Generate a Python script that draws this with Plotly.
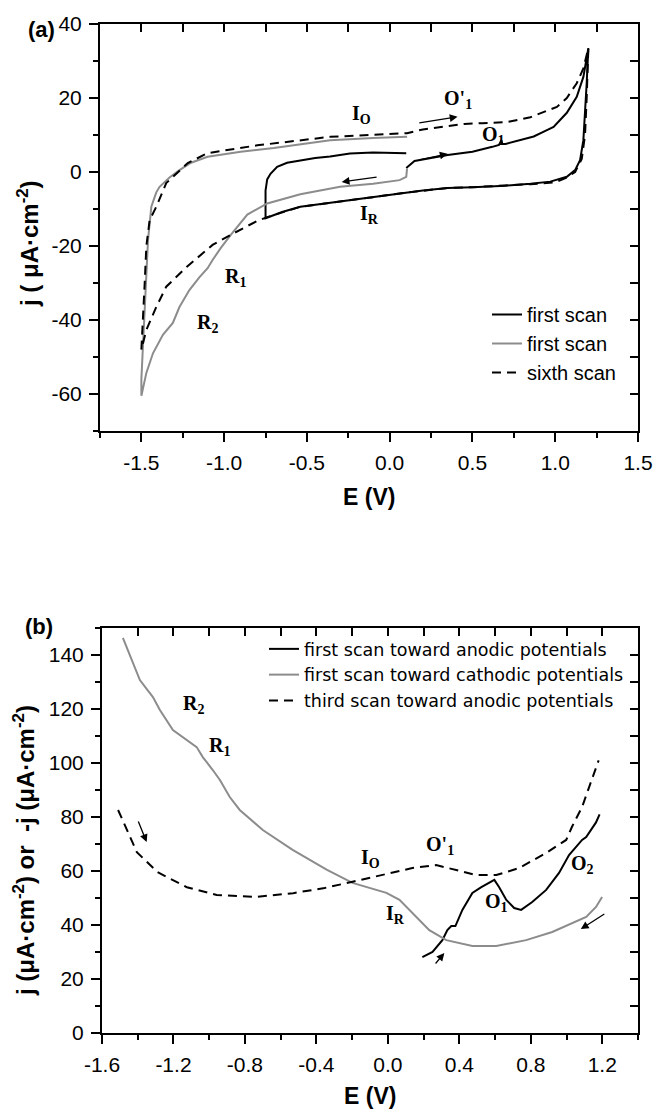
import plotly.graph_objects as go

# ---------------- Panel (a) data ----------------
A_FIRST_E = [0.10, 0.15, 0.35, 0.50, 0.62, 0.66, 0.675, 0.68, 0.70, 0.80, 0.87, 0.95, 0.99, 1.07, 1.13, 1.17, 1.20,
             1.19, 1.18, 1.17, 1.15, 1.12, 1.07, 0.97, 0.85, 0.70, 0.50, 0.35, 0.20, 0.06, -0.10, -0.30, -0.54, -0.65, -0.74,
             -0.75, -0.75, -0.74, -0.72, -0.68, -0.62, -0.54, -0.45, -0.36, -0.24, -0.10, 0.00, 0.10]
A_FIRST_J = [1.1, 3.0, 4.6, 5.5, 6.8, 7.3, 8.6, 7.6, 7.6, 8.8, 9.6, 11.3, 12.2, 16.0, 20.3, 25.7, 33.5,
             24.0, 14.9, 8.6, 3.2, 0.5, -1.3, -2.6, -3.2, -3.7, -4.1, -4.3, -5.0, -5.8, -6.8, -8.0, -9.4, -10.8, -12.2,
             -12.5, -5.0, -2.0, -0.5, 1.4, 2.5, 3.2, 3.8, 4.2, 5.0, 5.3, 5.3, 5.1]

A_CATH_E = [0.105, 0.10, 0.06, -0.10, -0.30, -0.54, -0.74, -0.86, -0.96, -1.02, -1.07, -1.10, -1.15, -1.21, -1.27,
            -1.31, -1.37, -1.43, -1.47, -1.50, -1.50, -1.49, -1.48, -1.47, -1.46, -1.44, -1.41, -1.39, -1.33, -1.27,
            -1.20, -1.10, -0.90, -0.70, -0.54, -0.36, -0.10, 0.105]
A_CATH_J = [1.0, -1.3, -2.2, -3.2, -4.0, -6.0, -8.5, -11.5, -17.0, -20.5, -23.8, -26.0, -28.5, -31.9, -36.5,
            -40.8, -44.0, -49.0, -54.3, -60.5, -56.0, -46.0, -36.5, -27.0, -18.4, -9.4, -5.5, -4.0, -1.5, 0.5,
            2.5, 4.1, 5.5, 6.5, 7.5, 8.6, 9.2, 9.5]

A_SIXTH_E = [-1.50, -1.49, -1.48, -1.47, -1.45, -1.41, -1.35, -1.22, -1.10, -0.80, -0.54, -0.36, 0.105, 0.20, 0.35,
             0.45, 0.56, 0.71, 0.85, 1.01, 1.07, 1.13, 1.17, 1.20, 1.19, 1.18, 1.16, 1.12, 1.07, 1.00, 0.85, 0.70,
             0.50, 0.35, 0.20, 0.06, -0.10, -0.30, -0.54, -0.74, -0.80, -0.94, -1.07, -1.225, -1.35, -1.41, -1.47, -1.50]
A_SIXTH_J = [-48.0, -40.0, -30.0, -20.0, -13.0, -9.4, -3.0, 2.4, 5.1, 7.2, 8.6, 9.5, 10.5, 11.5, 12.4,
             13.0, 13.2, 13.5, 14.8, 17.6, 20.0, 24.0, 28.0, 33.5, 20.0, 10.0, 3.5, 0.0, -1.5, -2.8, -3.3, -3.7,
             -4.1, -4.3, -5.0, -5.8, -6.8, -8.0, -9.4, -12.2, -13.2, -16.5, -19.7, -25.6, -31.0, -36.5, -42.7, -48.0]

A_XTICKS = [-1.5, -1.0, -0.5, 0.0, 0.5, 1.0, 1.5]
A_XLABELS = ["-1.5", "-1.0", "-0.5", "0.0", "0.5", "1.0", "1.5"]
A_YTICKS = [-60, -40, -20, 0, 20, 40]
A_YLABELS = ["-60", "-40", "-20", "0", "20", "40"]

A_LABEL_TEXT = ["I<sub>O</sub>", "O'<sub>1</sub>", "O<sub>1</sub>", "I<sub>R</sub>", "R<sub>1</sub>", "R<sub>2</sub>"]
A_LABEL_E = [-0.17, 0.41, 0.63, -0.12, -0.93, -1.10]
A_LABEL_J = [15.5, 19.5, 10.0, -11.5, -28.5, -41.0]

A_ARROW_TAIL_E = [0.17, 0.17, -0.07]
A_ARROW_TAIL_J = [13.2, 3.2, -1.35]
A_ARROW_HEAD_E = [0.41, 0.35, -0.29]
A_ARROW_HEAD_J = [14.9, 4.9, -2.7]

# ---------------- Panel (b) data ----------------
B_ANOD_E = [0.193, 0.25, 0.305, 0.333, 0.355, 0.378, 0.417, 0.473, 0.523, 0.596, 0.623, 0.663, 0.707, 0.746,
            0.808, 0.886, 0.958, 1.014, 1.087, 1.11, 1.165, 1.185]
B_ANOD_J = [28.1, 30.0, 34.4, 38.1, 39.6, 39.6, 45.6, 51.9, 54.0, 56.7, 54.0, 49.3, 46.3, 45.6,
            48.5, 53.0, 59.3, 65.9, 71.5, 72.6, 78.0, 81.0]

B_CATH_E = [1.199, 1.165, 1.11, 0.92, 0.774, 0.607, 0.473, 0.327, 0.232, 0.137, 0.065, -0.008, -0.198, -0.343,
            -0.533, -0.70, -0.829, -0.885, -0.94, -0.98, -1.036, -1.07, -1.125, -1.203, -1.276, -1.315, -1.388, -1.483]
B_CATH_J = [50.4, 46.7, 43.0, 37.4, 34.4, 32.2, 32.2, 34.4, 38.1, 44.4, 49.3, 51.9, 55.6, 60.5,
            67.8, 75.2, 82.6, 87.4, 93.7, 97.4, 102.2, 105.9, 108.5, 112.2, 119.6, 124.4, 130.7, 146.3]

B_THIRD_E = [-1.51, -1.46, -1.405, -1.29, -1.125, -0.958, -0.734, -0.53, -0.354, -0.198, 0.026, 0.137, 0.27, 0.383,
             0.495, 0.607, 0.735, 0.886, 0.998, 1.03, 1.087, 1.126, 1.18]
B_THIRD_J = [82.6, 75.2, 67.0, 59.6, 54.0, 51.1, 50.4, 51.8, 53.7, 56.0, 59.3, 61.1, 62.2, 60.4,
             58.5, 58.5, 61.1, 66.7, 71.5, 76.3, 83.7, 91.0, 101.0]

B_XTICKS = [-1.6, -1.2, -0.8, -0.4, 0.0, 0.4, 0.8, 1.2]
B_XLABELS = ["-1.6", "-1.2", "-0.8", "-0.4", "0.0", "0.4", "0.8", "1.2"]
B_YTICKS = [0, 20, 40, 60, 80, 100, 120, 140]
B_YLABELS = ["0", "20", "40", "60", "80", "100", "120", "140"]

B_LABEL_TEXT = ["R<sub>2</sub>", "R<sub>1</sub>", "I<sub>O</sub>", "O'<sub>1</sub>", "I<sub>R</sub>", "O<sub>1</sub>", "O<sub>2</sub>"]
B_LABEL_E = [-1.09, -0.94, -0.10, 0.29, 0.04, 0.61, 1.09]
B_LABEL_J = [121.5, 106.0, 64.5, 69.5, 44.0, 48.5, 62.5]

B_ARROW_TAIL_E = [0.26, 1.22, -1.40]
B_ARROW_TAIL_J = [25.2, 44.4, 78.9]
B_ARROW_HEAD_E = [0.316, 1.08, -1.35]
B_ARROW_HEAD_J = [29.6, 38.5, 70.7]

# ---------------- Figure ----------------
W, H = 656, 1113
GRAY = "rgb(140,140,140)"
SANS = "Arial, Liberation Sans, sans-serif"
WIDE = "DejaVu Sans, Arial, sans-serif"
SERIF = "Times New Roman, Liberation Serif, serif"
DASH = "9px,6px"


def px_x(p):
    return p / W


def px_y(p):
    return 1 - p / H


fig = go.Figure()

fig.add_trace(go.Scatter(x=A_FIRST_E, y=A_FIRST_J, mode="lines", name="first scan",
                         line=dict(color="black", width=2), xaxis="x", yaxis="y", legend="legend"))
fig.add_trace(go.Scatter(x=A_CATH_E, y=A_CATH_J, mode="lines", name="first scan",
                         line=dict(color=GRAY, width=2), xaxis="x", yaxis="y", legend="legend"))
fig.add_trace(go.Scatter(x=A_SIXTH_E, y=A_SIXTH_J, mode="lines", name="sixth scan",
                         line=dict(color="black", width=2, dash=DASH), xaxis="x", yaxis="y", legend="legend"))

fig.add_trace(go.Scatter(x=B_ANOD_E, y=B_ANOD_J, mode="lines", name="first scan toward anodic potentials",
                         line=dict(color="black", width=2), xaxis="x2", yaxis="y2", legend="legend2"))
fig.add_trace(go.Scatter(x=B_CATH_E, y=B_CATH_J, mode="lines", name="first scan toward cathodic potentials",
                         line=dict(color=GRAY, width=2), xaxis="x2", yaxis="y2", legend="legend2"))
fig.add_trace(go.Scatter(x=B_THIRD_E, y=B_THIRD_J, mode="lines", name="third scan toward anodic potentials",
                         line=dict(color="black", width=2, dash=DASH), xaxis="x2", yaxis="y2", legend="legend2"))

# empty traces to register mirror axes (top / right with inside ticks)
fig.add_trace(go.Scatter(x=[], y=[], xaxis="x3", yaxis="y3", showlegend=False, hoverinfo="skip"))
fig.add_trace(go.Scatter(x=[], y=[], xaxis="x4", yaxis="y4", showlegend=False, hoverinfo="skip"))

dom_ax = [px_x(100), px_x(638)]
dom_ay = [px_y(431), px_y(24)]
dom_bx = [px_x(102), px_x(638)]
dom_by = [px_y(1033), px_y(628)]

tickfont = dict(family=SANS, size=21, color="black")


def main_axis(dom, anchor, rng, tv, tt, minor_d):
    return dict(domain=dom, anchor=anchor, range=rng, tickmode="array", tickvals=tv, ticktext=tt,
                automargin=False,
                showline=True, linecolor="black", linewidth=2, ticks="outside", ticklen=9, tickwidth=2,
                tickcolor="black", showgrid=False, zeroline=False, tickfont=tickfont, ticklabelstandoff=3,
                minor=dict(dtick=minor_d, tick0=0, ticks="outside", ticklen=5, tickwidth=2, tickcolor="black",
                           showgrid=False))


def mirror_axis(dom, anchor, over, side, rng, tv, minor_d):
    return dict(domain=dom, anchor=anchor, overlaying=over, side=side, range=rng, tickmode="array",
                automargin=False,
                tickvals=tv, showticklabels=False, showline=True, linecolor="black", linewidth=2,
                ticks="inside", ticklen=8, tickwidth=2, tickcolor="black", showgrid=False, zeroline=False,
                minor=dict(dtick=minor_d, tick0=0, ticks="inside", ticklen=8, tickwidth=2, tickcolor="black",
                           showgrid=False))


A_XR = [-1.75, 1.5]
A_YR = [-70, 40]
B_XR = [-1.6, 1.4]
B_YR = [0, 150]

fig.update_layout(
    template="none",
    width=W, height=H, autosize=False,
    margin=dict(l=0, r=0, t=0, b=0, pad=0, autoexpand=False),
    paper_bgcolor="white", plot_bgcolor="white",
    xaxis=main_axis(dom_ax, "y", A_XR, A_XTICKS, A_XLABELS, 0.25),
    yaxis=main_axis(dom_ay, "x", A_YR, A_YTICKS, A_YLABELS, 10),
    xaxis2=main_axis(dom_bx, "y2", B_XR, B_XTICKS, B_XLABELS, 0.2),
    yaxis2=main_axis(dom_by, "x2", B_YR, B_YTICKS, B_YLABELS, 10),
    xaxis3=mirror_axis(dom_ax, "y3", "x", "top", A_XR, A_XTICKS, 0.25),
    yaxis3=mirror_axis(dom_ay, "x3", "y", "right", A_YR, A_YTICKS, 10),
    xaxis4=mirror_axis(dom_bx, "y4", "x2", "top", B_XR, B_XTICKS, 0.2),
    yaxis4=mirror_axis(dom_by, "x4", "y2", "right", B_YR, B_YTICKS, 10),
    legend=dict(x=px_x(487), y=px_y(295), xanchor="left", yanchor="top", bgcolor="rgba(0,0,0,0)",
                borderwidth=0, font=dict(family=SANS, size=20, color="black"), tracegroupgap=0),
    legend2=dict(x=px_x(264), y=px_y(631), xanchor="left", yanchor="top", bgcolor="rgba(0,0,0,0)",
                 borderwidth=0, font=dict(family=WIDE, size=17.5, color="black"), tracegroupgap=0),
    showlegend=True,
)

ann = []
lab_font = dict(family=SERIF, size=20, color="black", weight="bold")
for t, e, j in zip(A_LABEL_TEXT, A_LABEL_E, A_LABEL_J):
    ann.append(dict(text=t, x=e, y=j, xref="x", yref="y", showarrow=False, font=lab_font,
                    xanchor="center", yanchor="middle"))
for t, e, j in zip(B_LABEL_TEXT, B_LABEL_E, B_LABEL_J):
    ann.append(dict(text=t, x=e, y=j, xref="x2", yref="y2", showarrow=False, font=lab_font,
                    xanchor="center", yanchor="middle"))

for te, tj, he, hj in zip(A_ARROW_TAIL_E, A_ARROW_TAIL_J, A_ARROW_HEAD_E, A_ARROW_HEAD_J):
    ann.append(dict(text="", x=he, y=hj, ax=te, ay=tj, xref="x", yref="y", axref="x", ayref="y",
                    showarrow=True, arrowhead=2, arrowsize=1.2, arrowwidth=1.3, arrowcolor="black"))
for te, tj, he, hj in zip(B_ARROW_TAIL_E, B_ARROW_TAIL_J, B_ARROW_HEAD_E, B_ARROW_HEAD_J):
    ann.append(dict(text="", x=he, y=hj, ax=te, ay=tj, xref="x2", yref="y2", axref="x2", ayref="y2",
                    showarrow=True, arrowhead=2, arrowsize=1.2, arrowwidth=1.3, arrowcolor="black"))

title_font = dict(family=SANS, size=23, color="black", weight="bold")
panel_font = dict(family=SANS, size=22, color="black", weight="bold")
ytitle_font = dict(family=SANS, size=24, color="black", weight="bold")


def paper_text(text, xp, yp, font, angle=0):
    return dict(text=text, x=px_x(xp), y=px_y(yp), xref="paper", yref="paper", showarrow=False,
                xanchor="center", yanchor="middle", textangle=angle, font=font)


ann += [
    paper_text("(a)", 41, 29, panel_font),
    paper_text("(b)", 39, 626, panel_font),
    paper_text("E (V)", 369, 497, title_font),
    paper_text("E (V)", 370, 1096, title_font),
    paper_text("j ( μA·cm<sup>-2</sup>)", 28, 244, ytitle_font, -90),
    paper_text("j (μA·cm<sup>-2</sup>) or  -j (μA·cm<sup>-2</sup>)", 24, 851, ytitle_font, -90),
]
fig.update_layout(annotations=ann)

fig.write_html("out.html")
